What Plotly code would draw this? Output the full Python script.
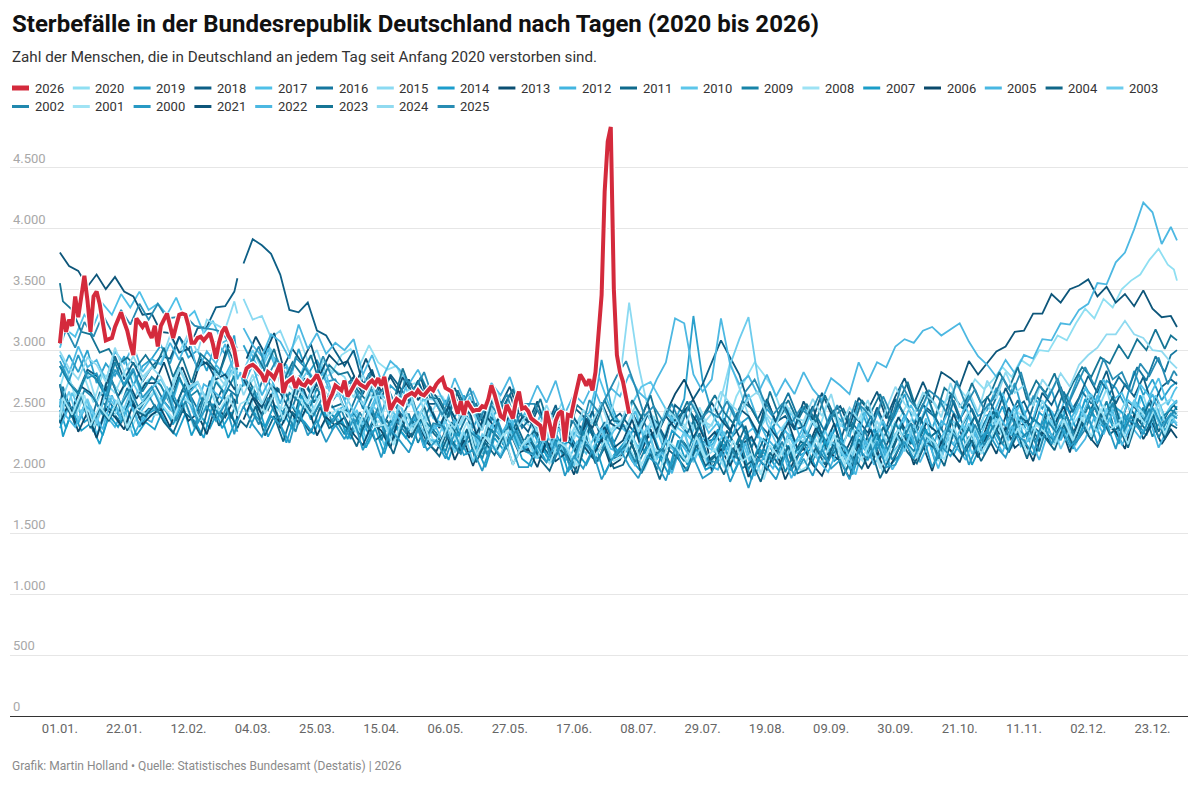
import datetime as dt
import plotly.graph_objects as go

# ---------------- categories (days of a leap year) ----------------
DAY_LABELS = [(dt.date(2024, 1, 1) + dt.timedelta(days=i)).strftime("%d.%m.") for i in range(366)]
TICK_DAYS = [0, 21, 42, 63, 84, 105, 126, 147, 168, 189, 210, 231, 252, 273, 294, 315, 336, 357]
DAYS_A = list(range(0, 58, 3)) + [58, 59] + list(range(60, 364, 3)) + [365]
DAYS_B = [0] + list(range(1, 58, 3)) + [58, 59] + list(range(61, 362, 3)) + [363, 365]
DAYS_C = [0] + list(range(2, 58, 3)) + [58, 59] + list(range(62, 364, 3)) + [364, 365]

YEARS_LEGEND = [2026, 2020, 2019, 2018, 2017, 2016, 2015, 2014, 2013, 2012, 2011, 2010, 2009,
                2008, 2007, 2006, 2005, 2004, 2003, 2002, 2001, 2000, 2021, 2022, 2023, 2024, 2025]

Y_TICKS = [0, 500, 1000, 1500, 2000, 2500, 3000, 3500, 4000, 4500]
Y_TICKTEXT = ["0", "500", "1.000", "1.500", "2.000", "2.500", "3.000", "3.500", "4.000", "4.500"]

# ---------------- 2026 (daily) ----------------
Y2026 = [3056, 3300, 3150, 3250, 3200, 3440, 3270, 3470, 3610, 3410,
         3150, 3440, 3480, 3380, 3250, 3080, 3090, 3100, 3190, 3250,
         3310, 3230, 3160, 3050, 2960, 3260, 3230, 3190, 3230, 3150,
         3100, 3200, 3030, 3200, 3250, 3300, 3200, 3100, 3200, 3290,
         3300, 3290, 3200, 3060, 3060, 3100, 3110, 3080, 3110, 3140,
         3050, 2930, 3060, 3150, 3190, 3120, 3080, 3000, 2860, None,
         2770, 2850, 2870, 2880, 2860, 2830, 2800, 2740, 2820, 2800,
         2770, 2830, 2890, 2650, 2730, 2750, 2770, 2690, 2750, 2720,
         2710, 2750, 2730, 2760, 2800, 2740, 2670, 2500, 2590, 2640,
         2710, 2690, 2670, 2750, 2620, 2660, 2700, 2750, 2720, 2700,
         2690, 2730, 2750, 2720, 2770, 2710, 2780, 2650, 2510, 2560,
         2600, 2580, 2560, 2620, 2640, 2650, 2630, 2670, 2640, 2630,
         2660, 2690, 2670, 2720, 2750, 2770, 2690, 2670, 2660, 2560,
         2480, 2580, 2470, 2580, 2540, 2500, 2510, 2510, 2540, 2530,
         2600, 2710, 2640, 2550, 2460, 2440, 2550, 2500, 2440, 2580,
         2660, 2520, 2530, 2500, 2440, 2420, 2400, 2380, 2260, 2500,
         2400, 2280, 2420, 2480, 2500, 2250, 2470, 2460, 2580, 2700,
         2800, 2760, 2710, 2760, 2670, 2820, 3100, 3450, 4300, 4710,
         4830, 3500, 2960, 2820, 2740, 2600, 2480]

# ---------------- historic years (values at their reading days) ----------------
Y2000 = [2910, 2750, 2960, 2770, 2810, 2620, 2840, 2720, 2850, 2610, 2700,
         2530, 2690, 2530, 2690, 2400, 2540, 2420, 2560, 2310,
         2420, 2480,
         2540, 2390, 2290, 2460, 2390, 2240, 2510, 2300, 2420, 2245, 2390,
         2270, 2440, 2180, 2340, 2120, 2350, 2260, 2160, 2350, 2180,
         2260, 2110, 2320, 2140, 2180, 2010, 2230, 2120, 2260, 2040,
         2040, 2220, 2080, 2250, 1970, 2130, 2030, 2180, 1940, 2090,
         2190, 2050, 1950, 2130, 2070, 1930, 2200, 2000, 2120, 1950,
         2000, 2170, 1920, 2090, 1870, 2110, 2040, 1940, 2140, 1970,
         2110, 1970, 2190, 2030, 2100, 1940, 2190, 2100, 2250, 2040,
         2060, 2250, 2110, 2300, 2040, 2210, 2130, 2300, 2060, 2230,
         2340, 2210, 2120, 2310, 2260, 2140, 2420, 2230, 2370, 2210,
         2280, 2460, 2230, 2400, 2190, 2460, 2400, 2310, 2530, 2380, 2480,
         2440]
Y2001 = [2430, 2610, 2470, 2650, 2380, 2540, 2440, 2600, 2360, 2520, 2580,
         2670, 2530, 2440, 2620, 2560, 2420, 2700, 2500, 2630,
         2460, None,
         2550, 2720, 2480, 2640, 2430, 2660, 2580, 2470, 2630, 2460, 2520,
         2480, 2320, 2540, 2370, 2390, 2220, 2450, 2330, 2460, 2250,
         2210, 2390, 2240, 2410, 2130, 2290, 2180, 2320, 2060, 2220,
         2300, 2160, 2070, 2250, 2190, 2050, 2330, 2130, 2260, 2090,
         2130, 2300, 2060, 2220, 2010, 2250, 2180, 2080, 2290, 2120,
         2190, 2040, 2260, 2090, 2150, 1980, 2220, 2120, 2270, 2050,
         2090, 2270, 2130, 2310, 2040, 2200, 2100, 2260, 2030, 2180,
         2350, 2210, 2120, 2300, 2240, 2100, 2380, 2190, 2320, 2150,
         2270, 2440, 2200, 2360, 2150, 2390, 2320, 2220, 2430, 2260,
         2450, 2290, 2520, 2350, 2400, 2230, 2480, 2380, 2530, 2310, 2440,
         2470]
Y2002 = [2720, 2580, 2490, 2670, 2610, 2470, 2750, 2550, 2680, 2510, 2630,
         2490, 2660, 2420, 2580, 2370, 2610, 2540, 2440, 2650,
         2480, None,
         2540, 2390, 2610, 2440, 2500, 2330, 2570, 2470, 2620, 2400, 2510,
         2310, 2490, 2350, 2530, 2260, 2420, 2320, 2480, 2240, 2400,
         2380, 2240, 2150, 2330, 2270, 2130, 2410, 2210, 2340, 2170,
         2150, 2320, 2080, 2240, 2030, 2270, 2200, 2100, 2310, 2140,
         2230, 2080, 2300, 2130, 2190, 2020, 2260, 2160, 2310, 2090,
         2080, 2260, 2120, 2300, 2030, 2190, 2090, 2250, 2010, 2170,
         2310, 2170, 2080, 2260, 2200, 2060, 2340, 2140, 2270, 2100,
         2230, 2400, 2160, 2320, 2110, 2350, 2280, 2180, 2390, 2220,
         2380, 2230, 2450, 2280, 2340, 2170, 2410, 2310, 2460, 2240,
         2350, 2530, 2390, 2570, 2300, 2460, 2360, 2520, 2280, 2440, 2500,
         2460]
Y2003 = [2470, 2660, 2430, 2600, 2400, 2650, 2590, 2520, 2730, 2580, 2690,
         2760, 2620, 2860, 2700, 2740, 2590, 2850, 2760, 2920,
         2810, None,
         2830, 3000, 2850, 3010, 2720, 2860, 2720, 2830, 2580, 2700, 2620,
         2640, 2500, 2390, 2550, 2470, 2310, 2560, 2360, 2420, 2270,
         2260, 2420, 2160, 2330, 2080, 2310, 2230, 2140, 2340, 2170,
         2260, 2110, 2330, 2160, 2220, 2050, 2290, 2190, 2340, 2120,
         2150, 2330, 2190, 2370, 2100, 2260, 2160, 2320, 2080, 2240,
         2180, 2350, 2880, 3090, 3270, 2780, 2400, 2240, 2110, 2230,
         2300, 2160, 2070, 2250, 2190, 2050, 2330, 2130, 2260, 2090,
         2320, 2170, 2390, 2220, 2280, 2110, 2350, 2250, 2400, 2180,
         2260, 2440, 2300, 2480, 2210, 2370, 2270, 2430, 2190, 2350,
         2540, 2420, 2330, 2510, 2450, 2310, 2590, 2390, 2520, 2350, 2460,
         2400]
Y2004 = [2410, 2590, 2450, 2630, 2360, 2520, 2420, 2580, 2340, 2500, 2460,
         2550, 2410, 2320, 2500, 2440, 2300, 2580, 2380, 2510,
         2360, 2420,
         2370, 2540, 2300, 2460, 2250, 2490, 2420, 2320, 2530, 2360, 2410,
         2360, 2210, 2430, 2260, 2320, 2150, 2390, 2290, 2440, 2220,
         2130, 2310, 2170, 2350, 2080, 2240, 2140, 2300, 2060, 2220,
         2240, 2100, 2010, 2190, 2130, 1990, 2270, 2070, 2200, 2030,
         2060, 2230, 1990, 2150, 1940, 2180, 2110, 2010, 2220, 2050,
         2130, 1980, 2200, 2030, 2090, 1920, 2160, 2060, 2210, 1990,
         2020, 2200, 2060, 2240, 1970, 2130, 2030, 2190, 1950, 2110,
         2300, 2160, 2070, 2250, 2190, 2050, 2330, 2130, 2260, 2090,
         2230, 2400, 2160, 2320, 2110, 2350, 2280, 2180, 2390, 2220,
         2410, 2260, 2480, 2310, 2370, 2200, 2440, 2340, 2490, 2270, 2390,
         2360]
Y2005 = [2600, 2460, 2370, 2550, 2490, 2350, 2630, 2430, 2560, 2390, 2510,
         2520, 2700, 2470, 2650, 2460, 2720, 2670, 2600, 2830,
         2790, None,
         2940, 2790, 3010, 2830, 2860, 2680, 2870, 2730, 2810, 2600, 2660,
         2450, 2610, 2460, 2620, 2330, 2470, 2350, 2470, 2210, 2380,
         2380, 2240, 2150, 2330, 2270, 2130, 2410, 2210, 2340, 2170,
         2140, 2310, 2070, 2230, 2020, 2260, 2190, 2090, 2300, 2130,
         2200, 2050, 2270, 2100, 2160, 1990, 2230, 2130, 2280, 2060,
         2020, 2200, 2060, 2240, 1970, 2130, 2030, 2190, 1950, 2110,
         2230, 2090, 2000, 2180, 2120, 1980, 2260, 2060, 2190, 2020,
         2150, 2320, 2080, 2240, 2030, 2270, 2200, 2100, 2310, 2140,
         2310, 2160, 2380, 2210, 2270, 2100, 2340, 2240, 2390, 2170,
         2270, 2450, 2310, 2490, 2220, 2380, 2280, 2440, 2200, 2360, 2420,
         2380]
Y2006 = [2400, 2570, 2330, 2490, 2280, 2520, 2450, 2350, 2560, 2390, 2470,
         2520, 2370, 2590, 2420, 2480, 2310, 2550, 2450, 2600,
         2430, None,
         2430, 2610, 2470, 2640, 2360, 2510, 2400, 2550, 2300, 2450, 2380,
         2450, 2310, 2220, 2400, 2340, 2200, 2480, 2280, 2410, 2240,
         2170, 2340, 2100, 2260, 2050, 2290, 2220, 2120, 2330, 2160,
         2190, 2040, 2260, 2090, 2150, 1980, 2220, 2120, 2270, 2050,
         2100, 2260, 2120, 2280, 2350, 2480, 2640, 2760, 2590, 2420,
         2010, 2190, 2050, 2230, 1960, 2120, 2020, 2180, 1940, 2100,
         2200, 2060, 1970, 2150, 2090, 1950, 2230, 2030, 2160, 1990,
         2130, 2300, 2060, 2220, 2010, 2250, 2180, 2080, 2290, 2120,
         2300, 2150, 2370, 2200, 2260, 2090, 2330, 2230, 2380, 2160,
         2440, 2300, 2210, 2390, 2330, 2190, 2470, 2270, 2400, 2230, 2350,
         2280]
Y2007 = [2440, 2290, 2510, 2340, 2400, 2230, 2470, 2370, 2520, 2300, 2410,
         2350, 2530, 2390, 2570, 2300, 2460, 2360, 2520, 2280,
         2450, None,
         2600, 2460, 2370, 2550, 2490, 2350, 2630, 2430, 2560, 2390, 2500,
         2270, 2440, 2200, 2360, 2150, 2390, 2320, 2220, 2430, 2260,
         2250, 2100, 2320, 2150, 2210, 2040, 2280, 2180, 2330, 2110,
         2050, 2230, 2090, 2270, 2000, 2160, 2060, 2220, 1980, 2140,
         2230, 2090, 2000, 2180, 2120, 1980, 2260, 2060, 2190, 2020,
         2060, 2230, 1990, 2150, 1940, 2180, 2110, 2010, 2220, 2050,
         2190, 2040, 2260, 2090, 2150, 1980, 2220, 2120, 2270, 2050,
         2130, 2310, 2170, 2350, 2080, 2240, 2140, 2300, 2060, 2220,
         2400, 2260, 2170, 2350, 2290, 2150, 2430, 2230, 2360, 2190,
         2350, 2520, 2280, 2440, 2230, 2470, 2400, 2300, 2510, 2340, 2420,
         2470]
Y2008 = [2410, 2590, 2450, 2630, 2360, 2520, 2420, 2580, 2340, 2500, 2470,
         2470, 2640, 2400, 2560, 2350, 2590, 2520, 2420, 2630,
         2500, 2560,
         2600, 2450, 2670, 2500, 2540, 2370, 2590, 2490, 2620, 2400, 2510,
         2470, 2330, 2240, 2420, 2360, 2220, 2500, 2300, 2430, 2260,
         2170, 2350, 2210, 2390, 2120, 2280, 2180, 2340, 2100, 2260,
         2140, 2310, 2070, 2230, 2020, 2260, 2190, 2090, 2300, 2130,
         2250, 2110, 2020, 2200, 2140, 2000, 2280, 2080, 2210, 2040,
         2150, 2000, 2220, 2050, 2110, 1940, 2180, 2080, 2230, 2010,
         2060, 2240, 2100, 2280, 2010, 2170, 2070, 2230, 1990, 2150,
         2210, 2380, 2140, 2300, 2090, 2330, 2260, 2160, 2370, 2200,
         2430, 2290, 2200, 2380, 2320, 2180, 2460, 2260, 2390, 2220,
         2480, 2330, 2550, 2380, 2440, 2270, 2510, 2410, 2560, 2340, 2460,
         2500]
Y2009 = [2870, 2730, 2640, 2820, 2760, 2620, 2900, 2700, 2830, 2660, 2780,
         2710, 2560, 2780, 2610, 2670, 2500, 2740, 2640, 2790,
         2560, None,
         2530, 2700, 2460, 2620, 2410, 2650, 2580, 2480, 2690, 2520, 2440,
         2310, 2490, 2350, 2530, 2260, 2420, 2320, 2480, 2240, 2400,
         2320, 2170, 2390, 2220, 2280, 2110, 2350, 2250, 2400, 2180,
         2310, 2170, 2080, 2260, 2200, 2060, 2340, 2140, 2270, 2100,
         2140, 2310, 2070, 2230, 2020, 2260, 2190, 2090, 2300, 2130,
         2070, 2250, 2110, 2290, 2020, 2180, 2080, 2240, 2000, 2160,
         2240, 2090, 2310, 2140, 2200, 2030, 2270, 2170, 2320, 2100,
         2400, 2260, 2170, 2350, 2290, 2150, 2430, 2230, 2360, 2190,
         2320, 2490, 2250, 2410, 2200, 2440, 2370, 2270, 2480, 2310,
         2360, 2540, 2400, 2580, 2310, 2470, 2370, 2530, 2290, 2450, 2510,
         2480]
Y2010 = [2580, 2430, 2650, 2480, 2540, 2370, 2610, 2510, 2660, 2440, 2550,
         2660, 2520, 2430, 2610, 2550, 2410, 2690, 2490, 2620,
         2470, None,
         2470, 2650, 2510, 2680, 2400, 2550, 2440, 2590, 2340, 2490, 2430,
         2340, 2510, 2270, 2430, 2220, 2460, 2390, 2290, 2500, 2330,
         2400, 2260, 2170, 2350, 2290, 2150, 2430, 2230, 2360, 2190,
         2140, 2320, 2180, 2360, 2090, 2250, 2150, 2310, 2200, 2340,
         2420, 2560, 2700, 2740, 2600, 2470, 2360, 2300, 2220, 2290,
         2160, 2330, 2090, 2250, 2040, 2280, 2210, 2110, 2320, 2150,
         2270, 2120, 2340, 2170, 2230, 2060, 2300, 2200, 2350, 2130,
         2220, 2400, 2260, 2440, 2170, 2330, 2230, 2390, 2150, 2310,
         2490, 2350, 2260, 2440, 2380, 2240, 2520, 2320, 2450, 2280,
         2470, 2640, 2400, 2560, 2350, 2590, 2520, 2420, 2630, 2460, 2540,
         2580]
Y2011 = [2450, 2620, 2380, 2540, 2330, 2570, 2500, 2400, 2610, 2440, 2520,
         2510, 2690, 2550, 2730, 2460, 2620, 2520, 2680, 2440,
         2620, None,
         2740, 2600, 2510, 2690, 2630, 2490, 2770, 2570, 2700, 2530, 2560,
         2460, 2310, 2530, 2360, 2420, 2250, 2490, 2390, 2540, 2320,
         2240, 2410, 2170, 2330, 2120, 2360, 2290, 2190, 2400, 2230,
         2340, 2200, 2110, 2290, 2230, 2090, 2370, 2170, 2300, 2130,
         2240, 2090, 2310, 2140, 2200, 2030, 2270, 2170, 2320, 2100,
         2160, 2340, 2200, 2380, 2110, 2270, 2170, 2330, 2090, 2250,
         2210, 2380, 2140, 2300, 2090, 2330, 2260, 2160, 2370, 2200,
         2380, 2230, 2450, 2280, 2340, 2170, 2410, 2310, 2460, 2240,
         2500, 2360, 2270, 2450, 2390, 2250, 2530, 2330, 2460, 2290,
         2400, 2580, 2440, 2620, 2350, 2510, 2410, 2570, 2330, 2490, 2550,
         2510]
Y2012 = [2360, 2540, 2400, 2580, 2310, 2470, 2370, 2530, 2290, 2450, 2410,
         2610, 2510, 2760, 2640, 2730, 2590, 2880, 2790, 2940,
         2760, 2820,
         2710, 2880, 2630, 2780, 2560, 2790, 2710, 2600, 2800, 2620, 2500,
         2540, 2400, 2310, 2490, 2430, 2290, 2570, 2370, 2500, 2330,
         2360, 2210, 2430, 2260, 2320, 2150, 2390, 2290, 2440, 2220,
         2200, 2370, 2130, 2290, 2080, 2320, 2250, 2150, 2360, 2190,
         2160, 2340, 2200, 2380, 2110, 2270, 2170, 2330, 2090, 2250,
         2220, 2330, 2250, 2450, 2640, 2430, 2280, 2190, 2340, 2230,
         2370, 2230, 2140, 2320, 2260, 2120, 2400, 2200, 2330, 2160,
         2300, 2470, 2230, 2390, 2180, 2420, 2350, 2250, 2460, 2290,
         2330, 2510, 2370, 2550, 2280, 2440, 2340, 2500, 2260, 2420,
         2560, 2410, 2630, 2460, 2520, 2350, 2590, 2490, 2640, 2420, 2540,
         2590]
Y2013 = [2720, 2590, 2510, 2700, 2650, 2520, 2810, 2620, 2760, 2600, 2730,
         2730, 2900, 2680, 2860, 2670, 2920, 2870, 2800, 3050,
         2930, None,
         2930, 3110, 2970, 3140, 2860, 3010, 2900, 3050, 2800, 2960, 2880,
         2910, 2740, 2930, 2740, 2760, 2570, 2780, 2650, 2770, 2520,
         2360, 2540, 2400, 2580, 2310, 2470, 2370, 2530, 2290, 2450,
         2410, 2270, 2180, 2360, 2300, 2160, 2440, 2240, 2370, 2200,
         2260, 2430, 2190, 2350, 2140, 2380, 2450, 2530, 2420, 2250,
         2330, 2180, 2400, 2230, 2290, 2120, 2360, 2260, 2410, 2190,
         2180, 2360, 2220, 2400, 2130, 2290, 2190, 2350, 2110, 2270,
         2450, 2310, 2220, 2400, 2340, 2200, 2480, 2280, 2410, 2240,
         2460, 2310, 2530, 2360, 2420, 2250, 2490, 2390, 2540, 2320,
         2460, 2630, 2390, 2550, 2340, 2580, 2510, 2410, 2620, 2450, 2530,
         2580]
Y2014 = [2510, 2360, 2580, 2410, 2470, 2300, 2540, 2440, 2590, 2370, 2480,
         2530, 2390, 2300, 2480, 2420, 2280, 2560, 2360, 2490,
         2330, None,
         2360, 2530, 2290, 2450, 2240, 2480, 2410, 2310, 2520, 2350, 2430,
         2270, 2450, 2310, 2490, 2220, 2380, 2280, 2440, 2200, 2360,
         2400, 2260, 2170, 2350, 2290, 2150, 2430, 2230, 2360, 2190,
         2310, 2160, 2380, 2210, 2270, 2100, 2340, 2240, 2390, 2170,
         2220, 2390, 2150, 2310, 2100, 2340, 2270, 2170, 2380, 2210,
         2350, 2210, 2120, 2300, 2240, 2100, 2380, 2180, 2310, 2140,
         2180, 2360, 2220, 2400, 2130, 2290, 2190, 2350, 2110, 2270,
         2380, 2230, 2450, 2280, 2340, 2170, 2410, 2310, 2460, 2240,
         2370, 2540, 2300, 2460, 2250, 2490, 2420, 2320, 2530, 2360,
         2600, 2460, 2370, 2550, 2490, 2350, 2630, 2430, 2560, 2390, 2500,
         2540]
Y2015 = [2550, 2750, 2630, 2820, 2570, 2730, 2650, 2820, 2590, 2750, 2860,
         2900, 3120, 2980, 3140, 2980, 3250, 3210, 3170, 3400,
         3300, None,
         3420, 3250, 3280, 3100, 3160, 2980, 3120, 2910, 3000, 2780, 2830,
         2780, 2610, 2800, 2610, 2630, 2440, 2660, 2540, 2660, 2420,
         2560, 2410, 2310, 2470, 2400, 2250, 2520, 2310, 2420, 2220,
         2250, 2430, 2290, 2470, 2200, 2360, 2260, 2420, 2330, 2480,
         2760, 3390, 2880, 2540, 2380, 2470, 2330, 2480, 2360, 2420,
         2380, 2600, 2900, 2690, 2460, 2330, 2450, 2300, 2400, 2260,
         2260, 2430, 2190, 2350, 2140, 2380, 2310, 2210, 2420, 2250,
         2420, 2270, 2490, 2320, 2380, 2210, 2450, 2350, 2500, 2280,
         2560, 2420, 2330, 2510, 2450, 2310, 2590, 2390, 2520, 2350,
         2460, 2640, 2500, 2680, 2410, 2570, 2470, 2630, 2390, 2550, 2600,
         2560]
Y2016 = [2530, 2700, 2460, 2620, 2410, 2650, 2580, 2480, 2690, 2520, 2600,
         2720, 2580, 2490, 2670, 2610, 2470, 2750, 2550, 2680,
         2620, 2690,
         2750, 2600, 2810, 2640, 2700, 2530, 2750, 2640, 2780, 2550, 2650,
         2450, 2630, 2490, 2670, 2400, 2560, 2460, 2620, 2380, 2540,
         2370, 2540, 2300, 2460, 2250, 2490, 2420, 2320, 2530, 2360,
         2450, 2310, 2220, 2400, 2340, 2200, 2480, 2280, 2410, 2240,
         2390, 2240, 2460, 2290, 2350, 2180, 2420, 2320, 2470, 2250,
         2270, 2440, 2300, 2390, 2200, 2380, 2300, 2490, 2650, 2460,
         2290, 2470, 2330, 2510, 2240, 2400, 2300, 2460, 2220, 2380,
         2560, 2420, 2330, 2510, 2450, 2310, 2590, 2390, 2520, 2350,
         2500, 2670, 2430, 2590, 2380, 2620, 2550, 2450, 2660, 2490,
         2660, 2560, 2750, 2640, 2780, 2680, 2860, 2750, 2950, 2820, 2960,
         3000]
Y2017 = [3020, 3170, 3110, 3290, 3200, 3380, 3290, 3460, 3350, 3480, 3330,
         3380, 3290, 3430, 3250, 3320, 3140, 3240, 3060, 3100,
         2960, None,
         3000, 2840, 3050, 2870, 2880, 2700, 2880, 2760, 2880, 2640, 2720,
         2740, 2590, 2490, 2660, 2590, 2440, 2700, 2490, 2610, 2440,
         2400, 2580, 2440, 2620, 2350, 2510, 2410, 2570, 2330, 2490,
         2360, 2510, 2300, 2460, 2250, 2420, 2490, 2790, 2580, 2400,
         2330, 2500, 2260, 2420, 2210, 2450, 2380, 2280, 2490, 2320,
         2410, 2260, 2480, 2310, 2370, 2200, 2440, 2340, 2490, 2270,
         2460, 2320, 2230, 2410, 2350, 2210, 2490, 2290, 2420, 2250,
         2370, 2550, 2410, 2590, 2320, 2480, 2380, 2540, 2300, 2460,
         2480, 2650, 2410, 2570, 2360, 2600, 2530, 2430, 2640, 2470,
         2690, 2540, 2760, 2590, 2650, 2480, 2720, 2620, 2770, 2550, 2660,
         2700]
Y2018 = [2870, 2740, 2650, 2840, 2790, 2660, 2950, 2760, 2900, 2740, 2860,
         2950, 2930, 3110, 3000, 3180, 3190, 3350, 3360, 3480,
         3590, None,
         3710, 3910, 3860, 3790, 3620, 3330, 3310, 3390, 3160, 3120, 2990,
         2870, 3000, 2720, 2840, 2600, 2800, 2700, 2580, 2750, 2560,
         2560, 2410, 2630, 2460, 2520, 2350, 2590, 2490, 2640, 2420,
         2330, 2510, 2370, 2550, 2280, 2440, 2340, 2500, 2260, 2420,
         2480, 2380, 2290, 2470, 2410, 2270, 2550, 2480, 2600, 2720,
         2900, 3080, 2940, 2800, 2560, 2430, 2590, 2410, 2460, 2350,
         2370, 2540, 2300, 2460, 2250, 2490, 2420, 2320, 2530, 2360,
         2600, 2460, 2370, 2550, 2490, 2350, 2630, 2430, 2560, 2390,
         2620, 2470, 2690, 2520, 2580, 2410, 2650, 2550, 2700, 2480,
         2610, 2790, 2650, 2830, 2560, 2720, 2620, 2780, 2540, 2700, 2760,
         2720]
Y2019 = [2780, 2960, 2820, 3000, 2730, 2890, 2790, 2950, 2710, 2870, 2930,
         3040, 2890, 3110, 2940, 3000, 2830, 3070, 2970, 3120,
         2900, None,
         3040, 2890, 2790, 2960, 2890, 2740, 3010, 2800, 2920, 2740, 2760,
         2590, 2760, 2520, 2680, 2470, 2710, 2640, 2540, 2750, 2580,
         2410, 2590, 2450, 2630, 2360, 2520, 2420, 2580, 2340, 2500,
         2520, 2370, 2420, 2510, 2350, 2450, 2300, 2480, 2920, 2560,
         2380, 2530, 2390, 2470, 2320, 2480, 2420, 2600, 3280, 2750,
         2490, 2340, 2560, 2390, 2450, 2280, 2520, 2420, 2570, 2350,
         2540, 2400, 2310, 2490, 2430, 2290, 2570, 2370, 2500, 2330,
         2470, 2640, 2400, 2560, 2350, 2590, 2520, 2420, 2630, 2460,
         2510, 2690, 2550, 2730, 2460, 2620, 2520, 2680, 2440, 2600,
         2800, 2660, 2570, 2750, 2690, 2550, 2830, 2630, 2760, 2590, 2700,
         2740]
Y2020 = [2690, 2860, 2620, 2780, 2570, 2810, 2740, 2640, 2850, 2680, 2760,
         2760, 2610, 2830, 2660, 2720, 2550, 2790, 2690, 2840,
         2620, 2700,
         2720, 2820, 2650, 2800, 2730, 2650, 2860, 2770, 2910, 2820, 2960,
         3010, 2880, 3040, 2900, 2840, 2870, 2700, 2730, 2580, 2620,
         2620, 2480, 2390, 2570, 2510, 2370, 2650, 2450, 2580, 2410,
         2350, 2530, 2390, 2570, 2300, 2460, 2360, 2520, 2280, 2440,
         2370, 2540, 2300, 2460, 2250, 2490, 2420, 2320, 2530, 2360,
         2470, 2380, 2620, 2760, 2900, 2800, 2690, 2480, 2530, 2370,
         2500, 2350, 2570, 2400, 2460, 2290, 2530, 2430, 2580, 2360,
         2470, 2610, 2500, 2640, 2520, 2600, 2710, 2620, 2760, 2680,
         2760, 2860, 2780, 2920, 2870, 3000, 2990, 3120, 3080, 3220,
         3340, 3260, 3420, 3350, 3500, 3570, 3620, 3740, 3830, 3700, 3660,
         3570]
Y2021 = [3800, 3690, 3650, 3520, 3620, 3500, 3600, 3480, 3440, 3290, 3300,
         3150, 3140, 2980, 3010, 2860, 2900, 2760, 2800, 2680,
         2720, None,
         2760, 2620, 2530, 2710, 2650, 2510, 2790, 2590, 2720, 2600, 2720,
         2690, 2780, 2640, 2820, 2660, 2780, 2650, 2760, 2590, 2700,
         2620, 2470, 2690, 2520, 2580, 2410, 2650, 2550, 2700, 2480,
         2410, 2580, 2340, 2500, 2290, 2530, 2460, 2360, 2570, 2400,
         2350, 2530, 2390, 2570, 2300, 2460, 2360, 2520, 2280, 2440,
         2570, 2430, 2340, 2520, 2460, 2320, 2600, 2400, 2530, 2360,
         2580, 2430, 2650, 2480, 2540, 2370, 2610, 2510, 2660, 2440,
         2620, 2770, 2560, 2740, 2570, 2820, 2770, 2700, 2910, 2800,
         2900, 2990, 3030, 3150, 3160, 3300, 3300, 3460, 3390, 3500,
         3530, 3580, 3440, 3520, 3390, 3460, 3360, 3490, 3340, 3270, 3280,
         3190]
Y2022 = [2960, 2810, 3030, 2860, 2920, 2750, 2990, 2890, 3040, 2820, 2930,
         2880, 3060, 2920, 3100, 2830, 2990, 2890, 3050, 2810,
         3000, None,
         3180, 3040, 2950, 3130, 3070, 2930, 3210, 3010, 3140, 2970, 3060,
         3000, 3090, 2800, 2960, 2750, 2910, 2840, 2720, 2840, 2680,
         2700, 2550, 2770, 2600, 2660, 2490, 2730, 2630, 2780, 2560,
         2530, 2710, 2570, 2750, 2480, 2640, 2560, 2720, 2540, 2690,
         2620, 2800, 2660, 2590, 2760, 2900, 3260, 3220, 2800, 2660,
         2760, 3260, 2880, 2720, 2790, 2640, 2800, 2620, 2760, 2640,
         2820, 2680, 2590, 2770, 2710, 2640, 2900, 2740, 2900, 2860,
         3030, 3090, 3060, 3160, 3190, 3120, 3170, 3220, 3070, 2950,
         2880, 2780, 2920, 2810, 2960, 2930, 3090, 3080, 3220, 3210,
         3330, 3380, 3550, 3540, 3720, 3800, 3990, 4210, 4130, 3870, 4010,
         3900]
Y2023 = [3550, 3400, 3330, 3150, 3130, 2980, 3010, 2880, 2940, 2860, 2960,
         2850, 3020, 2780, 2940, 2730, 2970, 2900, 2800, 3010,
         2840, None,
         2790, 2970, 2830, 3010, 2740, 2900, 2800, 2960, 2720, 2880, 2800,
         2820, 2680, 2590, 2770, 2710, 2570, 2850, 2650, 2780, 2610,
         2600, 2450, 2670, 2500, 2560, 2390, 2630, 2530, 2680, 2460,
         2430, 2600, 2360, 2520, 2310, 2550, 2480, 2380, 2590, 2420,
         2410, 2590, 2450, 2630, 2360, 2520, 2420, 2580, 2340, 2500,
         2630, 2490, 2400, 2580, 2520, 2380, 2660, 2460, 2590, 2420,
         2560, 2410, 2630, 2460, 2520, 2350, 2590, 2490, 2640, 2420,
         2570, 2740, 2500, 2660, 2450, 2690, 2620, 2520, 2730, 2560,
         2640, 2820, 2680, 2860, 2590, 2750, 2650, 2810, 2570, 2730,
         2860, 2780, 2940, 2890, 3040, 2930, 3090, 3000, 3170, 3010, 3120,
         3080]
Y2024 = [2990, 2850, 2760, 2940, 2880, 2740, 3020, 2820, 2950, 2780, 2860,
         2780, 2630, 2850, 2680, 2740, 2570, 2810, 2710, 2860,
         2640, 2720,
         2630, 2800, 2560, 2720, 2510, 2750, 2680, 2580, 2790, 2620, 2700,
         2510, 2690, 2550, 2730, 2460, 2620, 2520, 2680, 2440, 2600,
         2590, 2450, 2360, 2540, 2480, 2340, 2620, 2420, 2550, 2380,
         2480, 2330, 2550, 2380, 2440, 2270, 2510, 2410, 2560, 2340,
         2400, 2570, 2330, 2490, 2280, 2520, 2450, 2350, 2560, 2390,
         2480, 2660, 2560, 2490, 2600, 2660, 2470, 2390, 2560, 2450,
         2420, 2600, 2460, 2640, 2370, 2530, 2430, 2590, 2350, 2510,
         2700, 2560, 2470, 2650, 2590, 2450, 2730, 2530, 2660, 2490,
         2750, 2600, 2820, 2650, 2710, 2540, 2760, 2660, 2810, 2700,
         2880, 2960, 3020, 3130, 3130, 3240, 3130, 3100, 3000, 2990, 2900,
         2850]
Y2025 = [3050, 3170, 3020, 3230, 3110, 3290, 3150, 3330, 3210, 3380, 3250,
         3380, 3260, 3270, 3280, 3200, 3180, 3170, 3150, 3030,
         3020, None,
         2880, 3030, 2790, 2930, 2710, 2940, 2860, 2750, 2950, 2770, 2700,
         2740, 2590, 2810, 2640, 2700, 2530, 2770, 2670, 2820, 2600,
         2470, 2650, 2510, 2690, 2420, 2580, 2480, 2640, 2400, 2560,
         2560, 2420, 2330, 2510, 2450, 2310, 2590, 2490, 2640, 2790,
         2910, 2700, 2460, 2540, 2420, 2560, 2380, 2580, 2430, 2500,
         2450, 2580, 2420, 2660, 2760, 2590, 2470, 2560, 2400, 2520,
         2460, 2630, 2390, 2550, 2340, 2580, 2510, 2410, 2620, 2450,
         2720, 2580, 2490, 2670, 2610, 2470, 2750, 2550, 2680, 2510,
         2600, 2780, 2640, 2820, 2550, 2710, 2610, 2770, 2530, 2690,
         2860, 2710, 2930, 2760, 2820, 2650, 2890, 2790, 2940, 2720, 2830,
         2790]

SERIES = {2000: Y2000, 2001: Y2001, 2002: Y2002, 2003: Y2003, 2004: Y2004, 2005: Y2005,
          2006: Y2006, 2007: Y2007, 2008: Y2008, 2009: Y2009, 2010: Y2010, 2011: Y2011,
          2012: Y2012, 2013: Y2013, 2014: Y2014, 2015: Y2015, 2016: Y2016, 2017: Y2017,
          2018: Y2018, 2019: Y2019, 2020: Y2020, 2021: Y2021, 2022: Y2022, 2023: Y2023,
          2024: Y2024, 2025: Y2025}

# which reading grid each year's values belong to
READ_DAYS = {2000: DAYS_A, 2003: DAYS_A, 2006: DAYS_A, 2009: DAYS_A, 2012: DAYS_A,
             2015: DAYS_A, 2018: DAYS_A, 2019: DAYS_A, 2021: DAYS_A, 2022: DAYS_A, 2024: DAYS_A,
             2001: DAYS_B, 2004: DAYS_B, 2007: DAYS_B, 2010: DAYS_B, 2013: DAYS_B,
             2016: DAYS_B, 2023: DAYS_B,
             2002: DAYS_C, 2005: DAYS_C, 2008: DAYS_C, 2011: DAYS_C, 2014: DAYS_C,
             2017: DAYS_C, 2020: DAYS_C, 2025: DAYS_C}

COLORS = {2026: "#d42a3c",
          2020: "#8fdff2", 2019: "#2aa0cc", 2018: "#0d5f86", 2017: "#4fc0e8", 2016: "#15779f",
          2015: "#8bdaf2", 2014: "#1c9dcc", 2013: "#0b4f72", 2012: "#42b5e0", 2011: "#0f6a8c",
          2010: "#5cc6ea", 2009: "#1784a8", 2008: "#9de2f4", 2007: "#1a9dc8", 2006: "#0a4a6c",
          2005: "#48b7e2", 2004: "#106788", 2003: "#6ccced", 2002: "#2188ae", 2001: "#a0e3f4",
          2000: "#2799c4", 2021: "#0d567a", 2022: "#4cb8e2", 2023: "#167595", 2024: "#90daf0",
          2025: "#288cb3"}

for yr, vals in SERIES.items():
    assert len(vals) == len(READ_DAYS[yr]), (yr, len(vals), len(READ_DAYS[yr]))

FONT = "Roboto, 'Open Sans', sans-serif"

fig = go.Figure()
for yr in YEARS_LEGEND[1:]:
    fig.add_trace(go.Scatter(x=[DAY_LABELS[d] for d in READ_DAYS[yr]], y=SERIES[yr],
                             mode="lines", name=str(yr),
                             line=dict(color=COLORS[yr], width=1.8),
                             connectgaps=False, showlegend=False, hoverinfo="skip"))
x_cur = DAY_LABELS[:len(Y2026)]
fig.add_trace(go.Scatter(x=x_cur, y=Y2026, mode="lines", line=dict(color="#ffffff", width=6.5),
                         connectgaps=False, showlegend=False, hoverinfo="skip"))
fig.add_trace(go.Scatter(x=x_cur, y=Y2026, mode="lines", name="2026",
                         line=dict(color=COLORS[2026], width=4),
                         connectgaps=False, showlegend=False, hoverinfo="skip"))

W, H = 1200, 786
L, R, T, B = 10, 12, 120, 70
PW, PH = W - L - R, H - T - B


def px_x(px):
    return (px - L) / PW


def px_y(py):
    return (H - B - py) / PH


annotations = [
    dict(text="<b>Sterbefälle in der Bundesrepublik Deutschland nach Tagen (2020 bis 2026)</b>",
         x=px_x(10), y=px_y(24), xref="paper", yref="paper", xanchor="left", yanchor="middle",
         showarrow=False, font=dict(family=FONT, size=24, color="#111111")),
    dict(text="Zahl der Menschen, die in Deutschland an jedem Tag seit Anfang 2020 verstorben sind.",
         x=px_x(10), y=px_y(57), xref="paper", yref="paper", xanchor="left", yanchor="middle",
         showarrow=False, font=dict(family=FONT, size=15.2, color="#333333")),
    dict(text="Grafik: Martin Holland • Quelle: Statistisches Bundesamt (Destatis) | 2026",
         x=px_x(10), y=px_y(766), xref="paper", yref="paper", xanchor="left", yanchor="middle",
         showarrow=False, font=dict(family=FONT, size=12, color="#8a8a8a")),
]
shapes = []
PITCH = 60.8
for i, yr in enumerate(YEARS_LEGEND):
    row, col = (0, i) if i < 19 else (1, i - 19)
    cy = 88 + row * 18.5
    x0 = 12 + col * PITCH
    shapes.append(dict(type="line", xref="paper", yref="paper",
                       x0=px_x(x0), x1=px_x(x0 + 17), y0=px_y(cy), y1=px_y(cy),
                       line=dict(color=COLORS[yr], width=5 if yr == 2026 else 3)))
    annotations.append(dict(text=str(yr), x=px_x(x0 + 20.5), y=px_y(cy), xref="paper", yref="paper",
                            xanchor="left", yanchor="middle", showarrow=False,
                            font=dict(family=FONT, size=13, color="#333333")))

fig.update_layout(
    width=W, height=H, autosize=False,
    margin=dict(l=L, r=R, t=T, b=B, pad=0),
    paper_bgcolor="#ffffff", plot_bgcolor="#ffffff",
    font=dict(family=FONT),
    showlegend=False, hovermode=False,
    annotations=annotations, shapes=shapes,
    xaxis=dict(type="category", categoryorder="array", categoryarray=DAY_LABELS,
               range=[-16.3, 368.6], tickmode="array",
               tickvals=[DAY_LABELS[d] for d in TICK_DAYS],
               ticktext=[DAY_LABELS[d] for d in TICK_DAYS],
               showgrid=False, showline=True, linecolor="#333333", linewidth=1,
               ticks="", zeroline=False, tickfont=dict(family=FONT, size=13, color="#666666")),
    yaxis=dict(range=[0, 4887], tickmode="array", tickvals=Y_TICKS, ticktext=Y_TICKTEXT,
               ticklabelposition="inside top", showgrid=True, gridcolor="#e6e6e6", gridwidth=1,
               zeroline=False, showline=False, ticks="",
               tickfont=dict(family=FONT, size=13, color="#a8a8a8")),
)

fig.write_html("out.html", include_plotlyjs=True,
               post_script="document.body.style.margin='0';")
